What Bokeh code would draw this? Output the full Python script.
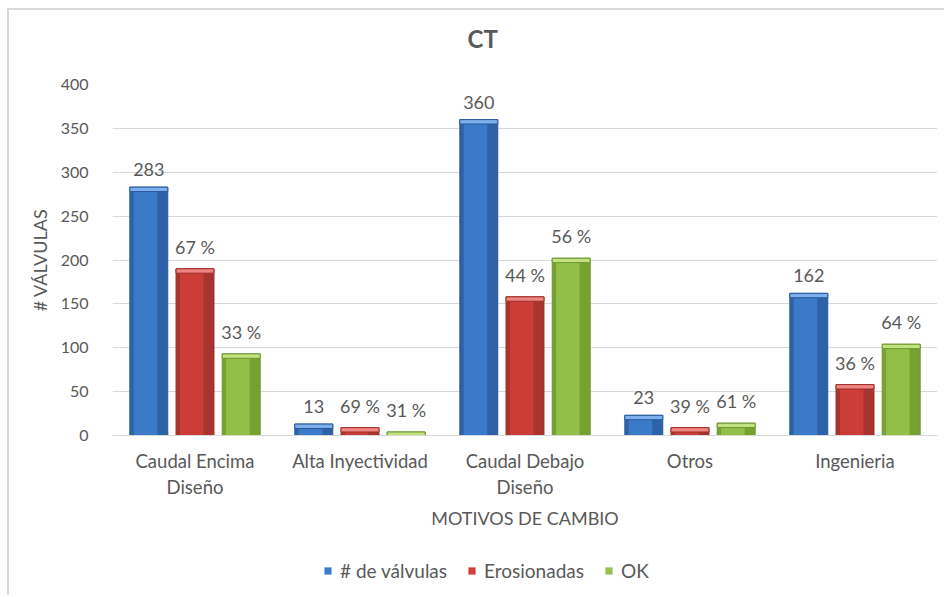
from bokeh.plotting import figure
from bokeh.layouts import column
from bokeh.models import FactorRange, Range1d, ColumnDataSource, Legend, LegendItem, Title
from bokeh.transform import dodge
from bokeh.core.properties import value
from bokeh.embed import file_html
from bokeh.resources import INLINE

# ---------------- data ----------------
categories = ["Caudal Encima\nDiseño", "Alta Inyectividad", "Caudal Debajo\nDiseño", "Otros", "Ingenieria"]
valvulas = [283, 13, 360, 23, 162]
erosionadas = [190, 9, 158, 9, 58]
ok = [93, 4, 202, 14, 104]
labels_valvulas = ["283", "13", "360", "23", "162"]
labels_erosionadas = ["67 %", "69 %", "44 %", "39 %", "36 %"]
labels_ok = ["33 %", "31 %", "56 %", "61 %", "64 %"]
series_names = ["# de válvulas", "Erosionadas", "OK"]
y_ticks = [0, 50, 100, 150, 200, 250, 300, 350, 400]
chart_title = "CT"

FONT = "Lato"
TXT = "#595959"
GRID = "#D9D9D9"

p = figure(
    x_range=FactorRange(*categories, range_padding=0),
    y_range=Range1d(0, 400),
    width=937, height=540,
    output_backend="svg", toolbar_location=None,
    min_border_left=103, min_border_right=9,
    min_border_top=74, min_border_bottom=115,
    margin=(8, 0, 0, 7),
    styles={"border-left": "2px solid #D9D9D9", "border-top": "2px solid #D9D9D9"},
)
p.outline_line_color = None
p.background_fill_color = "white"
p.border_fill_color = "white"

# title: empty default title, spacer + real title stacked above the frame
p.title.text = ""
p.title.text_font_size = "0px"
p.title.standoff = 0
p.add_layout(Title(text=" ", text_font_size="12px", standoff=16), "above")
p.add_layout(Title(text=chart_title, align="left", offset=355, standoff=0,
                   text_font=FONT, text_font_size="24px", text_font_style="bold",
                   text_color=TXT), "above")

# series
specs = [
    ("v", valvulas, labels_valvulas, -0.28, "#2E62A8", "#3C7DCC", "#7DB0EC", "#285A9C"),
    ("e", erosionadas, labels_erosionadas, 0.0, "#A83430", "#CF3E3A", "#EE8581", "#9C2F2B"),
    ("o", ok, labels_ok, 0.28, "#76A233", "#95C24A", "#C3E27F", "#6C9530"),
]
bw = 0.23
src = {"cat": categories}
for key, vals, labs, off, dark, main, cap, edge in specs:
    src[key] = vals
    src[key + "_lab"] = labs
    src[key + "_capb"] = [max(v - 5, 0) for v in vals]
source = ColumnDataSource(src)

for key, vals, labs, off, dark, main, cap, edge in specs:
    xs = dodge("cat", off, range=p.x_range)
    p.vbar(x=xs, top=key, bottom=0, width=bw, source=source,
           fill_color=dark, line_color=edge, line_width=1)
    p.vbar(x=dodge("cat", off - 0.02, range=p.x_range), top=key + "_capb", bottom=0,
           width=bw * 0.62, source=source, fill_color=main, line_color=None, fill_alpha=0.9)
    p.vbar(x=xs, top=key, bottom=key + "_capb", width=bw, source=source,
           fill_color=cap, line_color=edge, line_width=1)
    p.text(x=xs, y=key, text=key + "_lab", source=source,
           text_align="center", text_baseline="bottom", y_offset=-11,
           text_font=value(FONT), text_font_size="18px", text_color=TXT)

# axes & grid
p.ygrid.grid_line_color = GRID
p.ygrid.grid_line_width = 1
p.xgrid.grid_line_color = None

p.yaxis.ticker = y_ticks
p.yaxis.axis_line_color = None
p.yaxis.major_tick_line_color = None
p.yaxis.minor_tick_line_color = None
p.yaxis.major_label_standoff = 18
p.yaxis.major_label_text_font = FONT
p.yaxis.major_label_text_font_size = "16px"
p.yaxis.major_label_text_color = TXT
p.yaxis.axis_label = "# VÁLVULAS"
p.yaxis.axis_label_text_font = FONT
p.yaxis.axis_label_text_font_size = "18px"
p.yaxis.axis_label_text_font_style = "normal"
p.yaxis.axis_label_text_color = TXT
p.yaxis.axis_label_standoff = 7

p.xaxis.axis_line_color = GRID
p.xaxis.axis_line_width = 1
p.xaxis.major_tick_line_color = None
p.xaxis.minor_tick_line_color = None
p.xaxis.major_label_standoff = 8
p.xaxis.major_label_text_font = FONT
p.xaxis.major_label_text_font_size = "18.5px"
p.xaxis.major_label_text_color = TXT
p.xaxis.axis_label = "MOTIVOS DE CAMBIO"
p.xaxis.axis_label_text_font = FONT
p.xaxis.axis_label_text_font_size = "18px"
p.xaxis.axis_label_text_font_style = "normal"
p.xaxis.axis_label_text_color = TXT
p.xaxis.axis_label_standoff = 6

# ---------------- legend strip ----------------
p2 = figure(
    width=937, height=47, x_range=Range1d(0, 1), y_range=Range1d(0, 1),
    output_backend="svg", toolbar_location=None,
    min_border_left=0, min_border_right=0, min_border_top=0, min_border_bottom=0,
    margin=(0, 0, 0, 7),
    styles={"border-left": "2px solid #D9D9D9"},
)
p2.axis.visible = False
p2.grid.visible = False
p2.outline_line_color = None
p2.border_fill_color = "white"

legend_items = []
for (key, vals, labs, off, dark, main, cap, edge), name in zip(specs, series_names):
    # zero-height proxy glyph, used only for the legend swatch
    r = p2.vbar(x=[0.5], top=[0], bottom=[0], width=0.0, fill_color=main, line_color=None)
    legend_items.append(LegendItem(label=name, renderers=[r]))

legend = Legend(items=legend_items, orientation="horizontal", location=(211, 13),
                glyph_width=9, glyph_height=9, label_standoff=8, spacing=20,
                label_text_font=FONT, label_text_font_size="19px", label_text_color=TXT,
                border_line_color=None, background_fill_alpha=0, padding=0, margin=0)
p2.add_layout(legend, "center")

layout = column(p, p2, spacing=0)
open("out.html", "w").write(file_html(layout, INLINE))
